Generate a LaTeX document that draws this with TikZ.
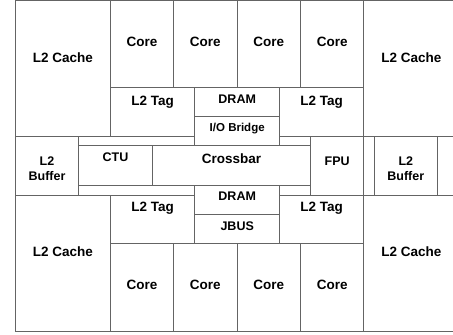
\documentclass[tikz,border=0pt]{standalone}
\usepackage{fontspec}
\setmainfont{Liberation Sans}
\usetikzlibrary{positioning}
\definecolor{wallgray}{RGB}{100,100,100}

\begin{document}
\begin{tikzpicture}[x=1pt, y=-1pt, blk/.style={draw=wallgray, line width=0.9pt}, lbl/.style={font=\bfseries\fontsize{13.5}{15}\selectfont, inner sep=0pt, anchor=base}, mid/.style={font=\bfseries\fontsize{12.5}{14.7}\selectfont, inner sep=0pt, anchor=base, align=center}, small/.style={font=\bfseries\fontsize{11.5}{13}\selectfont, inner sep=0pt, anchor=base}]
\useasboundingbox (0,0) rectangle (453,335);
\clip (0,0) rectangle (453,335);

% upper half
\draw[blk] (15.5,0.5) rectangle (110.7,136);
\draw[blk] (363.7,0.5) rectangle (460,136);
\foreach \xa/\xb [count=\i] in {110.7/173.3, 173.3/237, 237/300.7, 300.7/363.7}{
  \draw[blk] (\xa,0.5) rectangle (\xb,87.5);
  \node[lbl] (coreT\i) at ({(\xa+\xb)/2},46.7) {Core};
}
\draw[blk] (110.7,87.5) rectangle (194.7,136);
\draw[blk] (279.7,87.5) rectangle (363.7,136);
\draw[blk] (194.7,87.5) rectangle (279.7,116.7);
\draw[blk] (194.7,116.7) rectangle (279.7,145.5);
\node[lbl] (cacheTL) at (63,62.3) {L2 Cache};
\node[lbl] (cacheTR) at (411.5,62.3) {L2 Cache};
\node[lbl] (tagTL) at (152.7,105) {L2 Tag};
\node[lbl] (tagTR) at (321.7,105) {L2 Tag};
\node[mid] (dramT) at (237.2,103.3) {DRAM};
\node[small] (iob) at (237.2,131.7) {I/O Bridge};

% middle band
\draw[blk] (15.5,136) rectangle (78.7,195);
\draw[blk] (78.7,145.5) rectangle (152.3,185.5);
\draw[blk] (152.3,145.5) rectangle (310.7,185.5);
\draw[blk] (310.7,136) rectangle (363.7,195);
\draw[blk] (374.3,136) rectangle (437.3,195);
\node[mid] (bufL) at (47,180) {L2\\Buffer};
\node[mid] (ctu) at (115.5,161.7) {CTU};
\node[lbl] (xbar) at (231.5,163.3) {Crossbar};
\node[mid] (fpu) at (337.2,165.3) {FPU};
\node[mid] (bufR) at (405.8,180) {L2\\Buffer};

% lower half
\draw[blk] (194.7,185.5) rectangle (279.7,214.3);
\draw[blk] (194.7,214.3) rectangle (279.7,243.5);
\draw[blk] (110.7,195) rectangle (194.7,243.5);
\draw[blk] (279.7,195) rectangle (363.7,243.5);
\draw[blk] (15.5,195) rectangle (110.7,331);
\draw[blk] (363.7,195) rectangle (460,331);
\foreach \xa/\xb [count=\i] in {110.7/173.3, 173.3/237, 237/300.7, 300.7/363.7}{
  \draw[blk] (\xa,243.5) rectangle (\xb,331);
  \node[lbl] (coreB\i) at ({(\xa+\xb)/2},289.7) {Core};
}
\node[mid] (dramB) at (237.2,200.7) {DRAM};
\node[mid] (jbus) at (237.2,230) {JBUS};
\node[lbl] (tagBL) at (152.7,211.7) {L2 Tag};
\node[lbl] (tagBR) at (321.7,211.7) {L2 Tag};
\node[lbl] (cacheBL) at (63,256.7) {L2 Cache};
\node[lbl] (cacheBR) at (411.5,256.7) {L2 Cache};
\end{tikzpicture}
\end{document}
